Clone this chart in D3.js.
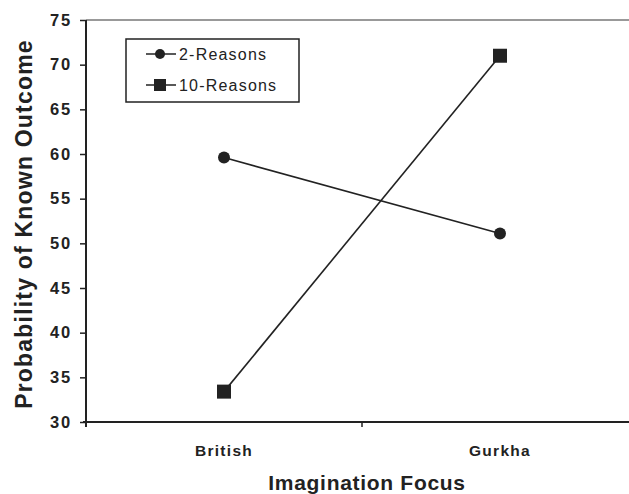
<!DOCTYPE html>
<html>
<head>
<meta charset="utf-8">
<script src="https://cdn.jsdelivr.net/npm/d3@7"></script>
<style>
  body { margin: 0; background: #fff; }
  text { font-family: 'Liberation Sans', Arial, sans-serif; font-weight: bold; fill: #222; }
</style>
</head>
<body>
<svg id="chart" width="629" height="494"></svg>
<script>
const categories = ['British', 'Gurkha'];
const seriesNames = ['2-Reasons', '10-Reasons'];
const twoReasons = [59.6, 51.1];
const tenReasons = [33.4, 71.0];
const yTicks = [30, 35, 40, 45, 50, 55, 60, 65, 70, 75];

const svg = d3.select('#chart');
const plotLeft = 86, plotRight = 638, plotTop = 20, plotBottom = 422;
const ink = '#222';

const x = d3.scaleBand().domain(categories).range([plotLeft, plotRight]).padding(0);
const y = d3.scaleLinear().domain([30, 75]).range([plotBottom, plotTop]);

// top frame line
svg.append('line')
    .attr('x1', plotLeft).attr('x2', 629)
    .attr('y1', plotTop).attr('y2', plotTop)
    .attr('stroke', '#777').attr('stroke-width', 1.5);

// y axis
const yAxis = svg.append('g')
    .attr('transform', 'translate(' + plotLeft + ',0)')
    .call(d3.axisLeft(y).tickValues(yTicks).tickSize(6).tickPadding(8));
yAxis.select('.domain').remove();
yAxis.selectAll('.tick line').attr('stroke', ink).attr('stroke-width', 1.5);
yAxis.selectAll('.tick text')
    .style('font-size', '16.5px')
    .style('letter-spacing', '1.8px')
    .attr('fill', ink);
svg.append('line')
    .attr('x1', plotLeft).attr('x2', plotLeft)
    .attr('y1', plotTop).attr('y2', plotBottom + 5)
    .attr('stroke', ink).attr('stroke-width', 2);

// x axis
const xAxis = svg.append('g')
    .attr('transform', 'translate(0,' + plotBottom + ')')
    .call(d3.axisBottom(x).tickSize(0).tickPadding(0));
xAxis.select('.domain').remove();
xAxis.selectAll('.tick text')
    .attr('y', 34).attr('dy', 0)
    .style('font-size', '15.5px')
    .style('letter-spacing', '1.3px')
    .attr('fill', ink);
svg.append('line')
    .attr('x1', plotLeft - 3).attr('x2', 629)
    .attr('y1', plotBottom).attr('y2', plotBottom)
    .attr('stroke', ink).attr('stroke-width', 2);
// tick between the categories
svg.append('line')
    .attr('x1', x('Gurkha')).attr('x2', x('Gurkha'))
    .attr('y1', plotBottom).attr('y2', plotBottom + 5)
    .attr('stroke', ink).attr('stroke-width', 1.5);

// axis titles
svg.append('text')
    .attr('x', (plotLeft + plotRight) / 2 + 5)
    .attr('y', 490)
    .attr('text-anchor', 'middle')
    .style('font-size', '21px')
    .style('letter-spacing', '0.7px')
    .text('Imagination Focus');

svg.append('text')
    .attr('transform', 'translate(32,224) rotate(-90)')
    .attr('text-anchor', 'middle')
    .style('font-size', '23px')
    .style('letter-spacing', '1.2px')
    .text('Probability of Known Outcome');

const cx = d => x(d) + x.bandwidth() / 2;
const line = d3.line()
    .x((d, i) => cx(categories[i]))
    .y(d => y(d));

svg.append('path')
    .attr('d', line(twoReasons))
    .attr('fill', 'none').attr('stroke', ink).attr('stroke-width', 1.6);
svg.append('path')
    .attr('d', line(tenReasons))
    .attr('fill', 'none').attr('stroke', ink).attr('stroke-width', 1.6);

svg.selectAll('.dot')
    .data(twoReasons)
    .enter()
    .append('circle')
    .attr('cx', (d, i) => cx(categories[i]))
    .attr('cy', d => y(d))
    .attr('r', 6)
    .attr('fill', ink);

svg.selectAll('.sq')
    .data(tenReasons)
    .enter()
    .append('rect')
    .attr('x', (d, i) => cx(categories[i]) - 7)
    .attr('y', d => y(d) - 7)
    .attr('width', 14).attr('height', 14)
    .attr('fill', ink);

// Legenda
const legend = svg.append('g');
legend.append('rect')
    .attr('x', 126).attr('y', 39)
    .attr('width', 173).attr('height', 63)
    .attr('fill', '#fff').attr('stroke', ink).attr('stroke-width', 1.5);

seriesNames.forEach((name, i) => {
    const ly = 54 + i * 31;
    legend.append('line')
        .attr('x1', 146).attr('x2', 176)
        .attr('y1', ly).attr('y2', ly)
        .attr('stroke', ink).attr('stroke-width', 1.5);
    if (i === 0) {
        legend.append('circle').attr('cx', 160).attr('cy', ly).attr('r', 5).attr('fill', ink);
    } else {
        legend.append('rect').attr('x', 154).attr('y', ly - 6).attr('width', 12).attr('height', 12).attr('fill', ink);
    }
    legend.append('text')
        .attr('x', 179).attr('y', ly)
        .attr('dy', '0.36em')
        .style('font-size', '16px')
        .style('font-weight', 'normal')
        .style('letter-spacing', '1.2px')
        .text(name);
});
</script>
</body>
</html>
